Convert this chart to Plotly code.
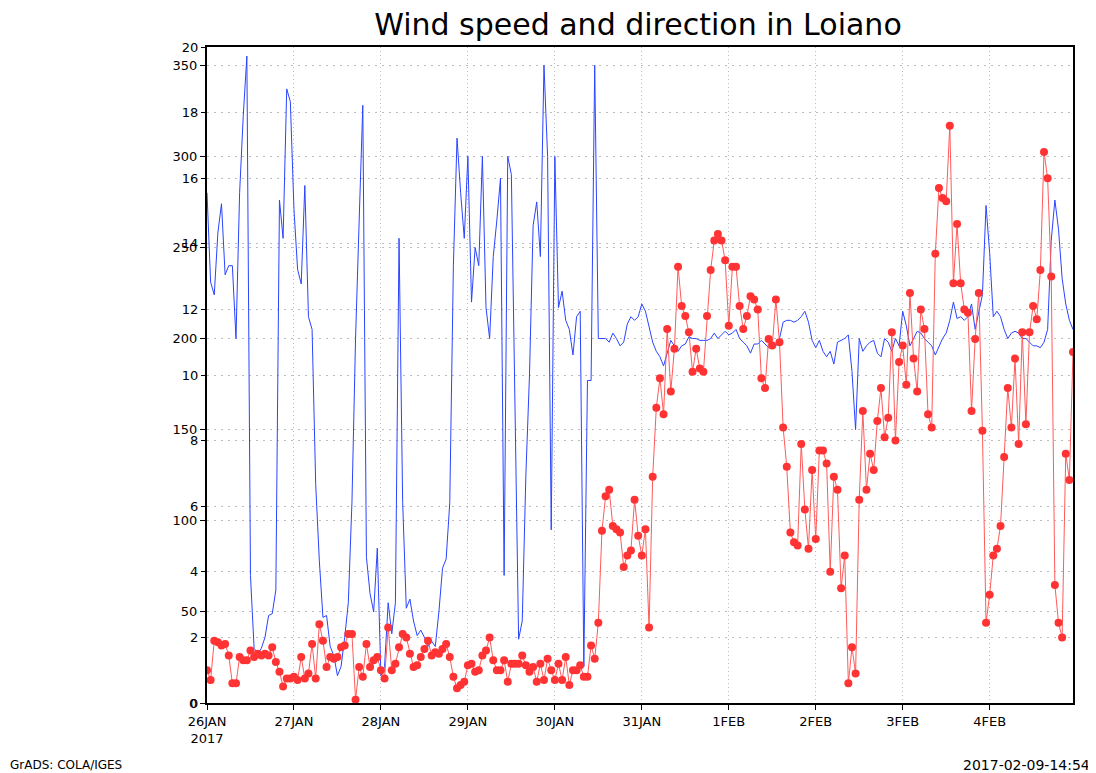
import pandas as pd
import plotly.graph_objects as go

# hourly series, 26JAN 00z .. 4FEB 23z
HOURS = pd.date_range("2017-01-26 00:00", periods=240, freq="h")

SPEED = [
    1.0, 0.7, 1.9, 1.85, 1.75, 1.8, 1.45, 0.6, 0.6, 1.4, 1.3, 1.3, 1.6, 1.4, 1.5, 1.45, 1.5, 1.45, 1.7, 1.25, 0.95, 0.5, 0.75, 0.75,
    0.8, 0.7, 1.4, 0.75, 0.9, 1.8, 0.75, 2.4, 1.9, 1.1, 1.4, 1.35, 1.4, 1.7, 1.75, 2.1, 2.1, 0.1, 1.1, 0.8, 1.8, 1.1, 1.3, 1.4,
    1.0, 0.75, 2.3, 1.0, 1.2, 1.7, 2.1, 2.0, 1.5, 1.1, 1.15, 1.4, 1.65, 1.9, 1.45, 1.55, 1.5, 1.65, 1.8, 1.4, 0.8, 0.45, 0.55, 0.65,
    1.15, 1.2, 0.95, 1.0, 1.45, 1.6, 2.0, 1.3, 1.0, 1.0, 1.3, 0.65, 1.2, 1.2, 1.2, 1.45, 1.15, 0.95, 1.1, 0.65, 1.2, 0.7, 1.35, 1.0,
    0.7, 1.2, 0.7, 1.4, 0.55, 1.0, 1.0, 1.15, 0.8, 0.8, 1.75, 1.35, 2.45, 5.25, 6.3, 6.5, 5.4, 5.3, 5.2, 4.15, 4.5, 4.65, 6.2, 5.1,
    4.5, 5.3, 2.3, 6.9, 9.0, 9.9, 8.8, 11.4, 9.5, 10.8, 13.3, 12.1, 11.8, 11.3, 10.1, 10.8, 10.2, 10.1, 11.8, 13.2, 14.1, 14.3, 14.1, 13.5,
    11.5, 13.3, 13.3, 12.1, 11.4, 11.8, 12.4, 12.3, 12.0, 9.9, 9.6, 11.1, 10.9, 12.3, 11.0, 8.4, 7.2, 5.2, 4.9, 4.8, 7.9, 5.9, 4.7, 7.1,
    5.0, 7.7, 7.7, 7.3, 4.0, 6.9, 6.5, 3.5, 4.5, 0.6, 1.7, 0.9, 6.2, 8.9, 6.5, 7.6, 7.1, 8.6, 9.6, 8.1, 8.7, 11.3, 8.0, 10.4,
    10.9, 9.7, 12.5, 10.5, 9.5, 12.0, 11.4, 8.8, 8.4, 13.7, 15.7, 15.4, 15.3, 17.6, 12.8, 14.6, 12.8, 12.0, 11.9, 8.9, 11.1, 12.5, 8.3, 2.45,
    3.3, 4.5, 4.7, 5.4, 7.5, 9.6, 8.4, 10.5, 7.9, 11.3, 8.5, 11.3, 12.1, 11.7, 13.2, 16.8, 16.0, 13.0, 3.6, 2.45, 2.0, 7.6, 6.8, 10.7,
]

DIRECTION = [
    280, 231, 224, 258, 274, 235, 240, 240, 200, 280, 322, 355, 70, 30, 27, 30, 36, 48, 49, 62, 276, 255, 337, 330,
    271, 238, 230, 284, 212, 205, 120, 78, 47, 48, 31, 26, 15, 20, 36, 55, 110, 200, 265, 328, 80, 60, 50, 85,
    15, 20, 55, 38, 55, 255, 110, 52, 57, 45, 37, 40, 36, 31, 34, 31, 50, 74, 79, 110, 240, 310, 280, 255,
    300, 220, 250, 240, 300, 217, 200, 245, 265, 288, 70, 300, 290, 160, 35, 45, 125, 180, 262, 275, 245, 350, 300, 95,
    300, 217, 226, 210, 205, 191, 212, 215, 20, 177, 177, 350, 200, 200, 200, 198, 203, 200, 196, 198, 208, 212, 210, 212,
    219, 215, 206, 198, 193, 190, 185, 192, 199, 196, 193, 196, 197, 201, 200, 200, 199, 199, 199, 200, 203, 200, 202, 204,
    202, 203, 205, 200, 198, 196, 192, 197, 197, 199, 197, 195, 195, 196, 200, 209, 210, 210, 209, 210, 212, 215, 209, 199,
    195, 199, 193, 190, 193, 186, 198, 199, 200, 202, 182, 150, 200, 193, 196, 198, 199, 192, 190, 200, 198, 193, 200, 196,
    215, 207, 196, 200, 204, 203, 200, 198, 196, 191, 196, 200, 203, 210, 220, 211, 212, 210, 212, 219, 205, 215, 224, 273,
    247, 212, 215, 212, 205, 200, 203, 204, 203, 200, 200, 198, 196, 196, 195, 198, 205, 254, 276, 260, 233, 219, 210, 205,
]

DAYS = pd.date_range("2017-01-26", periods=10, freq="D")
DAY_LABELS = ["26JAN<br>2017", "27JAN", "28JAN", "29JAN", "30JAN",
              "31JAN", "1FEB", "2FEB", "3FEB", "4FEB"]
SPEED_TICKS = [0, 2, 4, 6, 8, 10, 12, 14, 16, 18, 20]
DIR_TICKS = [0, 50, 100, 150, 200, 250, 300, 350]

FONT = "DejaVu Sans"
GRID = "#bdbdbd"

fig = go.Figure()

# direction (blue) on the base axis, speed (red) on the overlay so it sits on top
fig.add_trace(go.Scatter(
    x=HOURS, y=DIRECTION,
    mode="lines",
    line=dict(color="#2a44ff", width=1),
    yaxis="y",
    name="direction",
))
fig.add_trace(go.Scatter(
    x=HOURS, y=SPEED,
    mode="lines+markers",
    line=dict(color="#ff5a5a", width=1),
    marker=dict(color="#ff3333", size=8),
    yaxis="y2",
    name="speed",
))

# the page body has an 8px margin, so the figure is a bit smaller than the window
fig.update_layout(
    width=1088,
    height=765,
    margin=dict(l=199, r=23, t=39, b=70),
    paper_bgcolor="white",
    plot_bgcolor="white",
    showlegend=False,
    font=dict(family=FONT, color="black", size=13),
    title=dict(
        text="Wind speed and direction in Loiano",
        xref="container", yref="container",
        x=0.579, xanchor="center",
        y=0.978, yanchor="middle",
        font=dict(family=FONT, size=30, color="black"),
    ),
    xaxis=dict(
        type="date",
        range=[HOURS[0], HOURS[-1]],
        tickmode="array",
        tickvals=DAYS,
        ticktext=DAY_LABELS,
        ticks="outside", ticklen=5, tickcolor="black",
        showline=True, linecolor="black", linewidth=2, mirror=True,
        showgrid=True, gridcolor=GRID, griddash="1px,3px", gridwidth=1,
        zeroline=False,
        tickfont=dict(size=13),
    ),
    yaxis=dict(
        range=[0, 360],
        tickmode="array",
        tickvals=DIR_TICKS,
        ticks="outside", ticklen=5, tickcolor="black",
        showline=True, linecolor="black", linewidth=2, mirror=True,
        showgrid=True, gridcolor=GRID, griddash="2px,5px", gridwidth=1,
        zeroline=False,
        tickfont=dict(size=13),
    ),
    yaxis2=dict(
        range=[0, 20],
        overlaying="y",
        side="left",
        anchor="x",
        tickmode="array",
        tickvals=SPEED_TICKS,
        ticks="outside", ticklen=5, tickcolor="black",
        showline=False,
        showgrid=True, gridcolor=GRID, griddash="2px,5px", gridwidth=1,
        zeroline=False,
        tickfont=dict(size=13),
    ),
)

fig.add_annotation(
    text="GrADS: COLA/IGES",
    xref="paper", yref="paper",
    x=-0.2298, y=-0.0945,
    xanchor="left", yanchor="middle",
    showarrow=False,
    font=dict(family=FONT, size=12, color="black"),
)
fig.add_annotation(
    text="2017-02-09-14:54",
    xref="paper", yref="paper",
    x=1.022, y=-0.0945,
    xanchor="right", yanchor="middle",
    showarrow=False,
    font=dict(family=FONT, size=14, color="black"),
)

fig.write_html("out.html")
